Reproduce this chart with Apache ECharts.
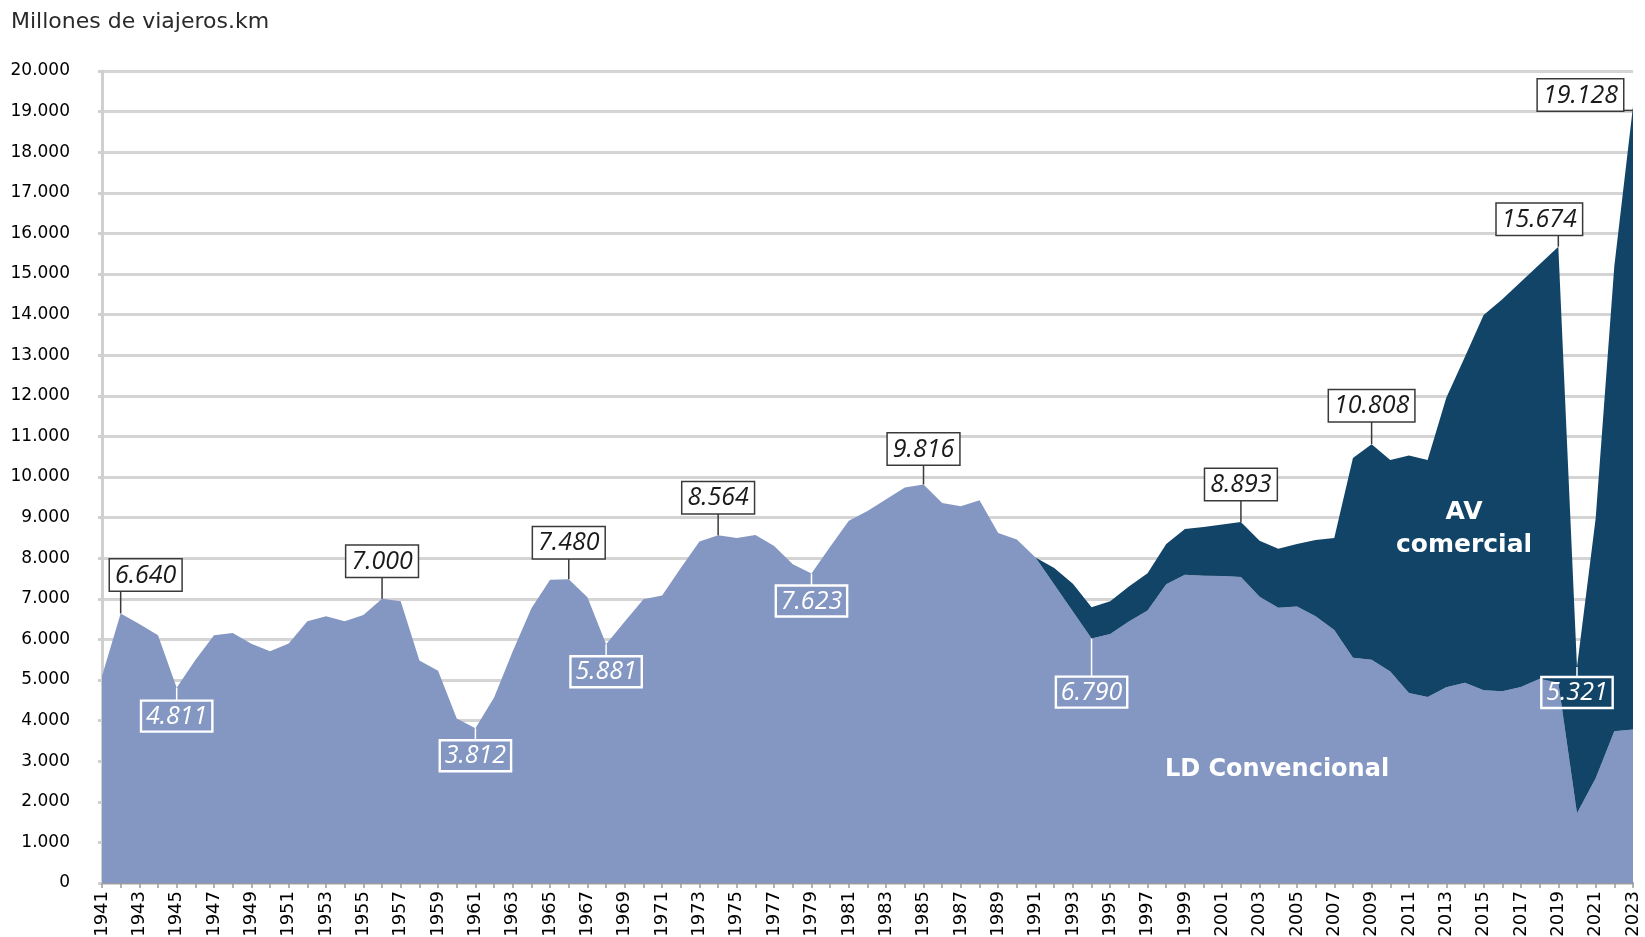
<!DOCTYPE html>
<html>
<head>
<meta charset="utf-8">
<title>Viajeros.km larga distancia</title>
<script src="https://cdn.jsdelivr.net/npm/echarts@6/dist/echarts.min.js"></script>
<style>
  html, body { margin: 0; padding: 0; background: #fff; }
  #chart { width: 1645px; height: 937px; }
</style>
</head>
<body>
<div id="chart"></div>
<script>
// years on the x axis
const years = []
for (let y = 1941; y <= 2023; y++) years.push(String(y))

// LD Convencional (millones de viajeros.km)
const ldValues = [
  5100, 6640, 6380, 6100, 4811, 5490, 6100, 6160, 5890, 5710, // 1941-1950
  5900, 6450, 6570, 6450, 6600, 7000, 6940, 5480, 5230, 4050, // 1951-1960
  3812, 4570, 5710, 6770, 7470, 7480, 7040, 5881, 6440, 6990, // 1961-1970
  7080, 7760, 8410, 8564, 8500, 8570, 8300, 7850, 7623, 8280, // 1971-1980
  8920, 9160, 9450, 9740, 9816, 9360, 9280, 9430, 8620, 8460, // 1981-1990
  8020, 7350, 6690, 6020, 6130, 6440, 6710, 7360, 7590, 7570, // 1991-2000
  7560, 7540, 7050, 6780, 6810, 6570, 6230, 5550, 5500, 5210, // 2001-2010
  4680, 4580, 4820, 4930, 4750, 4720, 4830, 5030, 4930, 1720, // 2011-2020
  2580, 3740, 3780                                            // 2021-2023
]

// AV comercial (null before the service existed)
const avValues = [
  null, null, null, null, null, null, null, null, null, null,
  null, null, null, null, null, null, null, null, null, null,
  null, null, null, null, null, null, null, null, null, null,
  null, null, null, null, null, null, null, null, null, null,
  null, null, null, null, null, null, null, null, null, null,
  0, 410, 680, 770, 810, 860, 920, 990, 1130, 1200,
  1270, 1353, 1380, 1450, 1540, 1880, 2270, 4920, 5308, 5210,
  5850, 5840, 7130, 8030, 9240, 9660, 9980, 10210, 10744, 3601,
  6400, 11460, 15348
]

// boxed annotations (total of both services)
const annoYears = ['1942', '1945', '1956', '1961', '1966', '1968', '1974', '1979', '1985', '1994', '2002', '2009', '2019', '2020', '2023']
const annoValues = [6640, 4811, 7000, 3812, 7480, 5881, 8564, 7623, 9816, 6790, 8893, 10808, 15674, 5321, 19128]

// how each box sits next to its point
const annoLayout = {
  '1942': { dir: 'up', len: 23, dx: 25, tone: 'dark' },
  '1945': { dir: 'down', len: 13, dx: 0, tone: 'light' },
  '1956': { dir: 'up', len: 22, dx: 0, tone: 'dark' },
  '1961': { dir: 'down', len: 12, dx: 0, tone: 'light' },
  '1966': { dir: 'up', len: 21, dx: 0, tone: 'dark' },
  '1968': { dir: 'down', len: 12, dx: 0, tone: 'light' },
  '1974': { dir: 'up', len: 22, dx: 0, tone: 'dark' },
  '1979': { dir: 'down', len: 12, dx: 0, tone: 'light' },
  '1985': { dir: 'up', len: 20, dx: 0, tone: 'dark' },
  '1994': { dir: 'down', len: 38, dx: 0, tone: 'light', anchor: 'ld' },
  '2002': { dir: 'up', len: 22, dx: 0, tone: 'dark' },
  '2009': { dir: 'up', len: 23, dx: 0, tone: 'dark' },
  '2019': { dir: 'up', len: 12, dx: -19, tone: 'dark' },
  '2020': { dir: 'down', len: 10, dx: 0, tone: 'light' },
  '2023': { dir: 'left', len: 10, dx: 0, tone: 'dark' }
}

function fmt(n) {
  return String(n).replace(/\B(?=(\d{3})+(?!\d))/g, '.')
}

const annoData = annoYears.map((yr, k) => {
  const i = years.indexOf(yr)
  const lay = annoLayout[yr]
  const anchorVal = lay.anchor === 'ld' ? ldValues[i] : ldValues[i] + (avValues[i] || 0)
  return [i, anchorVal, k]
})

const annoFont = 'italic 25px "Open Sans", "Noto Sans", sans-serif'

function renderAnno(params, api) {
  const k = api.value(2)
  const yr = annoYears[k]
  const lay = annoLayout[yr]
  const p = api.coord([api.value(0), api.value(1)])
  const dark = lay.tone === 'dark'
  const lineColor = dark ? '#3a3a3a' : '#ffffff'
  let x2 = p[0]
  let y2 = p[1]
  const textStyle = {
    text: fmt(annoValues[k]),
    font: annoFont,
    fill: dark ? '#1a1a1a' : '#ffffff',
    backgroundColor: dark ? '#ffffff' : 'transparent',
    borderColor: dark ? '#3a3a3a' : '#ffffff',
    borderWidth: dark ? 1.5 : 1.2,
    padding: [3, 5, 2, 5],
    lineHeight: 26
  }
  if (lay.dir === 'up') {
    y2 = p[1] - lay.len
    textStyle.x = p[0] + lay.dx
    textStyle.y = y2
    textStyle.align = 'center'
    textStyle.verticalAlign = 'bottom'
  } else if (lay.dir === 'down') {
    y2 = p[1] + lay.len
    textStyle.x = p[0] + lay.dx
    textStyle.y = y2
    textStyle.align = 'center'
    textStyle.verticalAlign = 'top'
  } else {
    x2 = p[0] - lay.len
    y2 = p[1] + 4
    textStyle.x = x2
    textStyle.y = y2
    textStyle.align = 'right'
    textStyle.verticalAlign = 'bottom'
  }
  return {
    type: 'group',
    children: [
      {
        type: 'line',
        shape: { x1: p[0], y1: lay.dir === 'left' ? y2 : p[1], x2: x2, y2: y2 },
        style: { stroke: lineColor, lineWidth: 1.5 }
      },
      { type: 'text', style: textStyle }
    ]
  }
}

const chart = echarts.init(document.getElementById('chart'))
chart.setOption({
  animation: false,
  backgroundColor: '#ffffff',
  textStyle: { fontFamily: 'DejaVu Sans' },
  grid: { left: 102, right: 12, top: 71, bottom: 54, outerBoundsMode: 'none' },
  xAxis: {
    type: 'category',
    data: years,
    boundaryGap: false,
    axisLine: { lineStyle: { color: '#9a9a9a', width: 2 } },
    axisTick: { show: true, interval: 0, length: 5, lineStyle: { color: '#9a9a9a', width: 1.5 } },
    axisLabel: {
      interval: 1,
      rotate: 90,
      margin: 8,
      color: '#000',
      fontSize: 18,
      fontFamily: 'DejaVu Sans'
    },
    splitLine: { show: false }
  },
  yAxis: {
    type: 'value',
    min: 0,
    max: 20000,
    interval: 1000,
    axisLine: { show: true, lineStyle: { color: '#d0d0d0', width: 3 } },
    axisTick: { show: true, length: 4, lineStyle: { color: '#d0d0d0', width: 3 } },
    axisLabel: {
      margin: 32,
      color: '#000',
      fontSize: 17,
      fontFamily: 'DejaVu Sans',
      formatter: v => fmt(v)
    },
    splitLine: { show: true, lineStyle: { color: '#d4d4d4', width: 3 } }
  },
  graphic: [
    {
      type: 'text', left: 11, top: 11,
      style: { text: 'Millones de viajeros.km', font: '22px "DejaVu Sans"', fill: '#2a2a2a' }
    },
    {
      type: 'text', x: 1464, y: 529,
      style: {
        text: 'AV\ncomercial', font: 'bold 25px "DejaVu Sans"', fill: '#ffffff',
        align: 'center', verticalAlign: 'middle', lineHeight: 33
      },
      z: 100
    },
    {
      type: 'text', x: 1277, y: 770,
      style: {
        text: 'LD Convencional', font: 'bold 24px "DejaVu Sans"', fill: '#ffffff',
        align: 'center', verticalAlign: 'middle'
      },
      z: 100
    }
  ],
  series: [
    {
      name: 'LD Convencional',
      type: 'line',
      stack: 'total',
      data: ldValues,
      symbol: 'none',
      lineStyle: { width: 0 },
      areaStyle: { color: '#8497c2', opacity: 1 },
      z: 2
    },
    {
      name: 'AV comercial',
      type: 'line',
      stack: 'total',
      data: avValues,
      symbol: 'none',
      lineStyle: { width: 0 },
      areaStyle: { color: '#124468', opacity: 1 },
      z: 2
    },
    {
      type: 'custom',
      data: annoData,
      renderItem: renderAnno,
      encode: { x: 0, y: 1 },
      clip: false,
      silent: true,
      z: 10
    }
  ]
})
</script>
</body>
</html>
